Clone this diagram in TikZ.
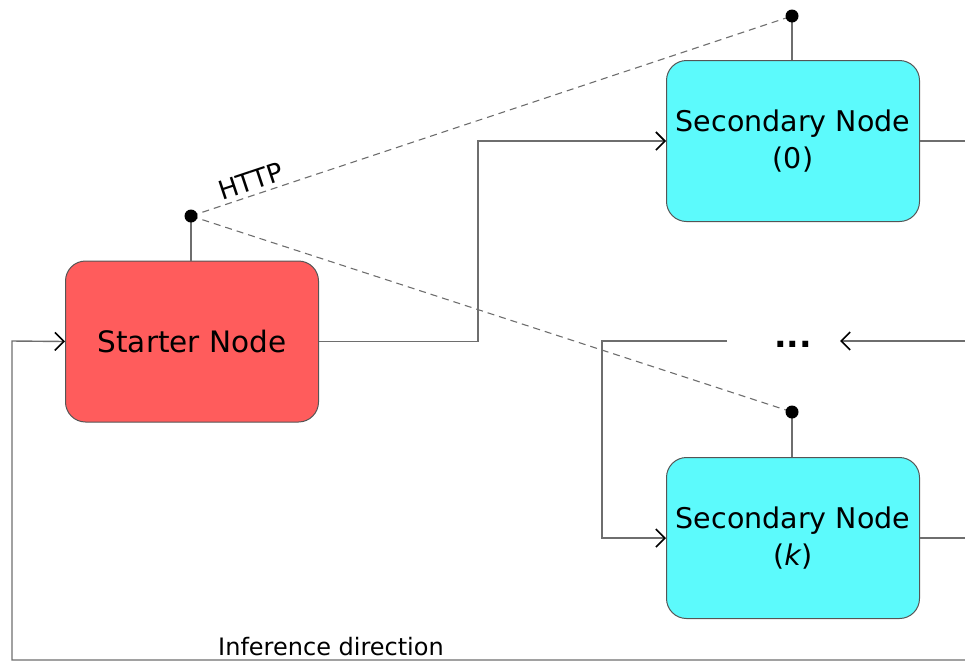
\documentclass[tikz,border=0pt]{standalone}
\usepackage{fontspec}
\setmainfont{DejaVu Sans}
\usetikzlibrary{arrows.meta}
\definecolor{starterred}{HTML}{FF5C5C}
\definecolor{secondcyan}{HTML}{5CFAFC}
\definecolor{wiregray}{HTML}{6E6E6E}
\definecolor{rimgray}{HTML}{555555}

\begin{document}
\begin{tikzpicture}[x=1pt,y=-1pt,
  box/.style={draw=rimgray, line width=1pt, rounded corners=20pt,
    minimum width=253pt, minimum height=161pt, inner sep=0pt, align=center,
    font=\fontsize{28.5}{37}\selectfont},
  wire/.style={draw=wiregray, line width=1.4pt},
  flow/.style={wire, -{Straight Barb[length=9pt,width=18pt,line width=1.6pt,color=black]}},
  link/.style={draw=wiregray, line width=1.1pt, dash pattern=on 7pt off 5pt},
  pin/.style={circle, fill=black, inner sep=0pt, minimum size=13pt},
]
\useasboundingbox (0,0) rectangle (965,662);

% machines
\node[box, fill=starterred, font=\fontsize{29.5}{37}\selectfont] (start) at (192,341.5) {Starter Node};
\node[box, fill=secondcyan] (sec0) at (793,141) {Secondary Node\\(0)};
\node[box, fill=secondcyan] (seck) at (793,538) {Secondary Node\\(\textit{k})};

% network endpoints
\coordinate (c0) at (191,216);
\coordinate (c1) at (792,16);
\coordinate (c2) at (792,412);
\draw[wire] (c0) -- (c0 |- start.north);
\draw[wire] (c1) -- (c1 |- sec0.north);
\draw[wire] (c2) -- (c2 |- seck.north);
\draw[link] (c0) -- (c1);
\draw[link] (c0) -- (c2);
\node[pin] (p0) at (c0) {};
\node[pin] (p1) at (c1) {};
\node[pin] (p2) at (c2) {};
\node[rotate=18.4, font=\fontsize{26}{30}\selectfont] (http) at (251,181) {HTTP};

% inference path
\coordinate (bend0) at (478,141);
\coordinate (out0) at (965,141);
\coordinate (outk) at (965,538);
\coordinate (inR) at (965,341);
\coordinate (dotsR) at (840,341);
\coordinate (dotsL) at (727,341);
\coordinate (bendk) at (602,341);
\coordinate (bottomR) at (965,660);
\coordinate (loopL) at (12,341);

\node[anchor=base, font=\fontsize{33}{36}\selectfont\bfseries] (dots) at (793,347) {...};

\draw[flow] (start.east) -| (bend0) -- (sec0.west);
\draw[wire] (sec0.east) -- (out0);
\draw[wire] (seck.east) -- (outk);
\draw[flow] (inR) -- (dotsR);
\draw[flow] (dotsL) -- (bendk) |- (seck.west);
\draw[flow] (bottomR) -| (loopL) -- (start.west);

\node[anchor=base, font=\fontsize{24}{28}\selectfont] (dirlabel) at (331,655) {Inference direction};
\end{tikzpicture}
\end{document}
